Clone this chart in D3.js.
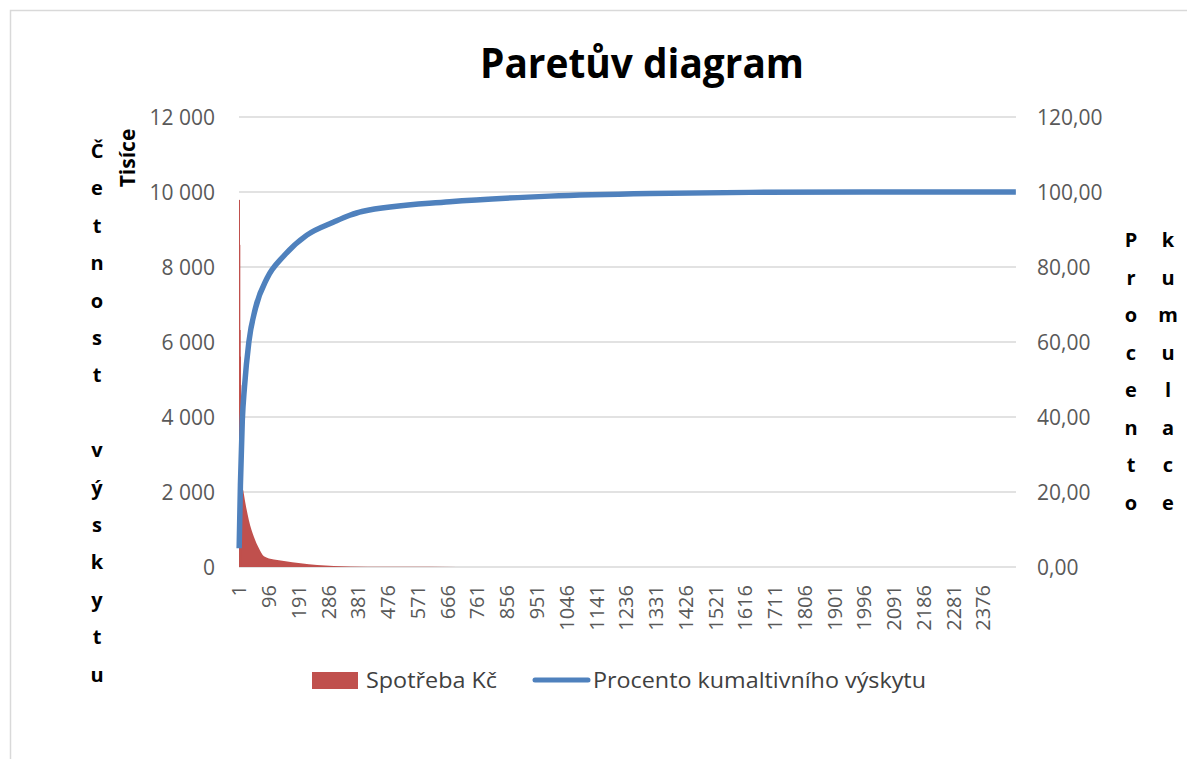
<!DOCTYPE html>
<html lang="cs">
<head>
<meta charset="UTF-8">
<title>Paretův diagram</title>
<script src="https://d3js.org/d3.v7.min.js"></script>
<style>
  body { margin: 0; background: #fff; }
  svg text { font-family: "Open Sans", "Noto Sans", sans-serif; }
</style>
</head>
<body>
<svg id="chart" width="1187" height="759"></svg>
<script>
// number of categories on the x axis (items sorted by consumption)
const categoryCount = 2480;
const xTickLabels = [1, 96, 191, 286, 381, 476, 571, 666, 761, 856, 951, 1046, 1141,
  1236, 1331, 1426, 1521, 1616, 1711, 1806, 1901, 1996, 2091, 2186, 2281, 2376];
const leftTicks = [0, 2000, 4000, 6000, 8000, 10000, 12000];
const rightTicks = [0, 20, 40, 60, 80, 100, 120];

// Spotřeba Kč (thousands) at these categories
const barCats = [1, 2, 3, 4, 5, 8, 11, 14, 21, 32, 48, 64, 80, 112, 144, 197, 250, 303, 410, 520, 700, 1000, 1500, 2480];
const barVals = [9790, 8590, 6320, 5610, 4850, 3000, 2190, 2050, 1700, 1250, 810, 500, 290, 200, 160, 100, 55, 27, 10, 4, 1, 0.3, 0, 0];

// Procento kumulativního výskytu
const cumCats = [1, 5, 11, 18, 32, 53, 90, 144, 217, 303, 354, 393, 673, 993, 1312, 1631, 2000, 2480];
const cumVals = [5, 21.8, 39, 48, 60, 69, 77, 83, 88.5, 92, 93.8, 94.8, 97.4, 98.9, 99.6, 99.9, 100, 100];

const svg = d3.select("#chart");
const plotL = 239, plotR = 1016, plotT = 117, plotB = 567;

// outer chart border
svg.append("rect").attr("x", 10.5).attr("y", 10.5).attr("width", 1200).attr("height", 800)
  .attr("fill", "none").attr("stroke", "#d9d9d9").attr("stroke-width", 1.5);

const x = d3.scaleLinear().domain([0, categoryCount]).range([plotL, plotR]);
const yL = d3.scaleLinear().domain([0, 12000]).range([plotB, plotT]);
const yR = d3.scaleLinear().domain([0, 120]).range([plotB, plotT]);

// gridlines
svg.append("g").selectAll("line").data(leftTicks).enter().append("line")
  .attr("x1", plotL).attr("x2", plotR)
  .attr("y1", d => yL(d)).attr("y2", d => yL(d))
  .attr("stroke", "#d9d9d9").attr("stroke-width", 1.5);

// left tick labels
const fmtL = d => d3.format(",")(d).replace(/,/g, "\u00a0");
svg.append("g").selectAll("text").data(leftTicks).enter().append("text")
  .attr("x", 215).attr("y", d => yL(d)).attr("dy", "0.36em")
  .attr("text-anchor", "end").attr("font-size", 21).attr("fill", "#595959")
  .text(fmtL);

// right tick labels
svg.append("g").selectAll("text").data(rightTicks).enter().append("text")
  .attr("x", 1037).attr("y", d => yR(d)).attr("dy", "0.36em")
  .attr("text-anchor", "start").attr("font-size", 21).attr("fill", "#595959")
  .text(d => d.toFixed(2).replace(".", ","));

// x tick labels (rotated)
svg.append("g").selectAll("text").data(xTickLabels).enter().append("text")
  .attr("transform", d => "translate(" + x(d - 0.5) + ",585) rotate(-90)")
  .attr("dy", "0.36em").attr("text-anchor", "end")
  .attr("font-size", 20).attr("fill", "#595959")
  .text(d => d);

// bars drawn as a dense area
const bars = barCats.map((c, i) => ({cat: c, val: barVals[i]}));
const area = d3.area()
  .x(d => x(d.cat - 0.5))
  .y0(yL(0))
  .y1(d => yL(d.val))
  .curve(d3.curveMonotoneX);
svg.append("path").datum(bars).attr("d", area).attr("fill", "#c0504d");

// the first few tall bars are thinner than a pixel; give them at least 1px
svg.append("g").selectAll("rect").data(bars.filter(d => d.cat <= 5)).enter().append("rect")
  .attr("x", d => x(d.cat - 1))
  .attr("width", Math.max(1, x(1) - x(0)))
  .attr("y", d => yL(d.val))
  .attr("height", d => yL(0) - yL(d.val))
  .attr("fill", "#c0504d");

// cumulative line
const cum = cumCats.map((c, i) => ({cat: c, val: cumVals[i]}));
const line = d3.line()
  .x(d => x(d.cat - 0.5))
  .y(d => yR(d.val))
  .curve(d3.curveMonotoneX);
svg.append("path").datum(cum).attr("d", line)
  .attr("fill", "none").attr("stroke", "#4f81bd").attr("stroke-width", 5.5);

// title
svg.append("text").attr("x", 642).attr("y", 78).attr("text-anchor", "middle")
  .attr("font-size", 42).attr("font-weight", "bold").attr("fill", "#000")
  .attr("textLength", 324).attr("lengthAdjust", "spacingAndGlyphs")
  .text("Paretův diagram");

// left axis title, stacked letters
const leftTitle = "Četnost výskytu".split("");
svg.append("g").selectAll("text").data(leftTitle).enter().append("text")
  .attr("x", 97).attr("y", (d, i) => 158 + i * 37.4)
  .attr("text-anchor", "middle").attr("font-size", 20).attr("font-weight", "bold")
  .text(d => d);

svg.append("text").attr("transform", "translate(135,158) rotate(-90)")
  .attr("text-anchor", "middle").attr("font-size", 21).attr("font-weight", "bold")
  .text("Tisíce");

// right axis title, two columns of stacked letters
const rightCols = [["Procento", 1131], ["kumulace", 1168]];
rightCols.forEach(([word, cx]) => {
  svg.append("g").selectAll("text").data(word.split("")).enter().append("text")
    .attr("x", cx).attr("y", (d, i) => 247 + i * 37.5)
    .attr("text-anchor", "middle").attr("font-size", 20).attr("font-weight", "bold")
    .text(d => d);
});

// legend
const lg = svg.append("g");
lg.append("rect").attr("x", 312).attr("y", 672).attr("width", 46).attr("height", 17).attr("fill", "#c0504d");
lg.append("text").attr("x", 366).attr("y", 688).attr("font-size", 21).attr("fill", "#404040")
  .attr("textLength", 131).attr("lengthAdjust", "spacingAndGlyphs").text("Spotřeba Kč");
lg.append("line").attr("x1", 535).attr("x2", 588).attr("y1", 680).attr("y2", 680)
  .attr("stroke", "#4f81bd").attr("stroke-width", 5).attr("stroke-linecap", "round");
lg.append("text").attr("x", 593).attr("y", 688).attr("font-size", 21).attr("fill", "#404040")
  .attr("textLength", 333).attr("lengthAdjust", "spacingAndGlyphs").text("Procento kumaltivního výskytu");
</script>
</body>
</html>
